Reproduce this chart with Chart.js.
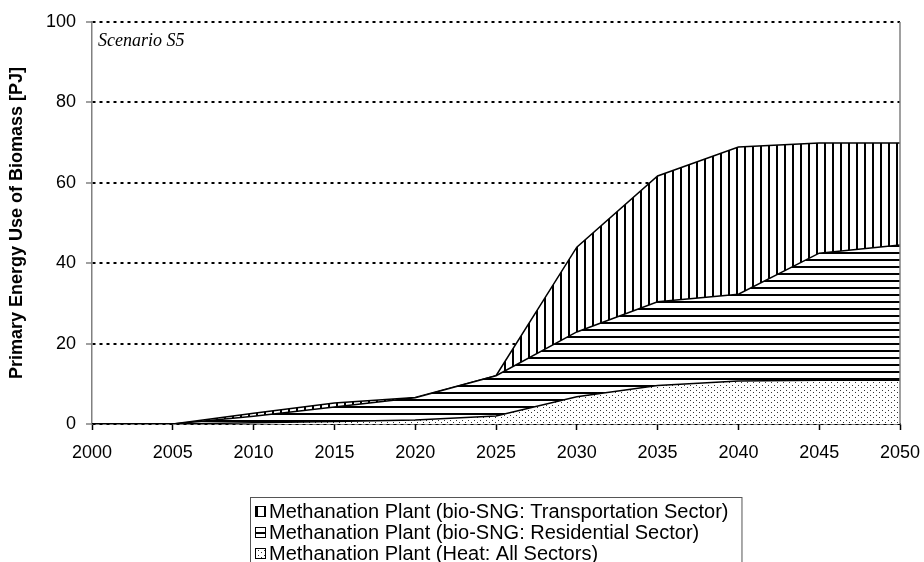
<!DOCTYPE html>
<html>
<head>
    <title>Primary Energy Use of Biomass - Scenario S5</title>
    <script src="https://cdn.jsdelivr.net/npm/chart.js"></script>
    <style>
        body {
            margin: 0;
            background: white;
        }
        canvas {
            display: block;
        }
    </style>
</head>
<body>
    <canvas id="chart" width="924" height="562"></canvas>

    <script>
        // Years on the x axis
        const years = [2000, 2005, 2010, 2015, 2020, 2025, 2030, 2035, 2040, 2045, 2050];

        // Biomass use per plant type [PJ], stacked from bottom to top
        const heatAll = [0, 0, 0.3, 0.6, 1.0, 2.0, 6.8, 9.6, 10.7, 10.9, 10.9];
        const sngResidential = [0, 0, 1.6, 3.6, 5.5, 10.0, 16.1, 20.8, 21.6, 31.6, 33.6];
        const sngTransport = [0, 0, 0.8, 1.0, 0.1, 0, 21.1, 31.3, 36.6, 27.4, 25.4];

        const yTicks = [0, 20, 40, 60, 80, 100];

        const legendNames = [
            'Methanation Plant (bio-SNG: Transportation Sector)',
            'Methanation Plant (bio-SNG: Residential Sector)',
            'Methanation Plant (Heat: All Sectors)'
        ];

        const FONT = "'Liberation Sans', Arial, sans-serif";

        // Small repeating fills for the areas
        function makePattern(w, h, paint) {
            const c = document.createElement('canvas');
            c.width = w;
            c.height = h;
            const g = c.getContext('2d');
            g.fillStyle = '#fff';
            g.fillRect(0, 0, w, h);
            paint(g);
            return g.createPattern(c, 'repeat');
        }

        const ctx = document.getElementById('chart').getContext('2d');

        const verticalHatch = makePattern(8, 8, g => {
            g.fillStyle = '#000';
            g.fillRect(0, 0, 2, 8);
        });
        const horizontalHatch = makePattern(8, 7, g => {
            g.fillStyle = '#000';
            g.fillRect(0, 0, 8, 2);
        });
        const dotFill = makePattern(6, 5, g => {
            g.fillStyle = '#333';
            g.fillRect(0, 0, 1, 1);
            g.fillRect(3, 2, 1, 1);
        });

        const fills = [verticalHatch, horizontalHatch, dotFill];

        // Scenario label, right plot border and the boxed legend underneath
        const extras = {
            id: 'extras',
            afterDraw(chart) {
                const c = chart.ctx;
                const area = chart.chartArea;
                c.save();

                c.strokeStyle = '#808080';
                c.lineWidth = 1.5;
                c.beginPath();
                c.moveTo(area.right, area.top);
                c.lineTo(area.right, area.bottom);
                c.stroke();

                c.fillStyle = '#000';
                c.font = "italic 18px 'Liberation Serif', 'Times New Roman', serif";
                c.textBaseline = 'alphabetic';
                c.fillText('Scenario S5', area.left + 6, area.top + 24);

                c.font = '20px ' + FONT;
                const textW = Math.max(...legendNames.map(n => c.measureText(n).width));
                const boxW = textW + 32;
                const boxLeft = Math.round((area.left + area.right) / 2 - boxW / 2);
                const boxTop = area.bottom + 73;
                const rowH = 21;
                c.strokeStyle = '#555';
                c.lineWidth = 1;
                c.strokeRect(boxLeft + 0.5, boxTop + 0.5, boxW, 120);

                c.textBaseline = 'middle';
                legendNames.forEach((name, i) => {
                    const cy = boxTop + 14 + i * rowH;
                    c.fillStyle = fills[i];
                    c.fillRect(boxLeft + 5, cy - 5, 11, 11);
                    c.strokeStyle = '#000';
                    c.strokeRect(boxLeft + 5.5, cy - 4.5, 10, 10);
                    c.fillStyle = '#000';
                    c.fillText(name, boxLeft + 19, cy + 1);
                });
                c.restore();
            }
        };

        new Chart(ctx, {
            type: 'line',
            data: {
                labels: years,
                datasets: [
                    {
                        label: legendNames[2],
                        data: heatAll,
                        fill: 'origin',
                        backgroundColor: dotFill,
                        borderColor: '#000',
                        borderWidth: 1.5,
                        pointRadius: 0,
                        tension: 0
                    },
                    {
                        label: legendNames[1],
                        data: sngResidential,
                        fill: '-1',
                        backgroundColor: horizontalHatch,
                        borderColor: '#000',
                        borderWidth: 1.5,
                        pointRadius: 0,
                        tension: 0
                    },
                    {
                        label: legendNames[0],
                        data: sngTransport,
                        fill: '-1',
                        backgroundColor: verticalHatch,
                        borderColor: '#000',
                        borderWidth: 1.5,
                        pointRadius: 0,
                        tension: 0
                    }
                ]
            },
            options: {
                responsive: false,
                animation: false,
                layout: {
                    padding: { top: 22, right: 24, bottom: 0, left: 0 }
                },
                plugins: {
                    legend: { display: false },
                    tooltip: { enabled: false }
                },
                scales: {
                    x: {
                        grid: {
                            drawOnChartArea: false,
                            drawTicks: true,
                            tickLength: 6,
                            tickColor: '#000',
                            tickWidth: 1.5
                        },
                        border: { color: '#000', width: 1.5 },
                        ticks: {
                            color: '#000',
                            font: { family: FONT, size: 18 },
                            padding: 12,
                            maxRotation: 0,
                            autoSkip: false
                        },
                        afterFit(scale) {
                            scale.height = 138;
                            scale.paddingLeft = 0;
                            scale.paddingRight = 0;
                        }
                    },
                    y: {
                        stacked: true,
                        min: 0,
                        max: 100,
                        afterBuildTicks(scale) {
                            scale.ticks = yTicks.map(v => ({ value: v }));
                        },
                        grid: {
                            color: '#000',
                            lineWidth: 2,
                            tickLength: 6,
                            tickColor: '#808080',
                            tickWidth: 1.5,
                            tickBorderDash: []
                        },
                        border: { color: '#808080', width: 1.5, dash: [3, 4] },
                        ticks: {
                            color: '#000',
                            font: { family: FONT, size: 18 },
                            padding: 10
                        },
                        title: {
                            display: true,
                            text: 'Primary Energy Use of Biomass [PJ]',
                            color: '#000',
                            font: { family: FONT, size: 18, weight: 'bold' },
                            padding: { top: 6, bottom: 0 }
                        },
                        afterFit(scale) {
                            scale.width = 92;
                        }
                    }
                }
            },
            plugins: [extras]
        });
    </script>
</body>
</html>
